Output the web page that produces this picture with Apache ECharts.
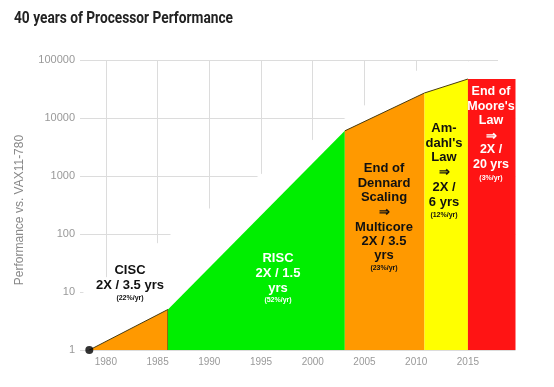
<!DOCTYPE html>
<html>
<head>
<meta charset="utf-8">
<script src="https://cdn.jsdelivr.net/npm/echarts@6/dist/echarts.min.js"></script>
<style>
html,body{margin:0;padding:0;background:#fff;}
#c{width:554px;height:387px;}
</style>
</head>
<body>
<div id="c"></div>
<script>
// ---- data ----
const eraYears = [1978.4, 1986.0, 2003.1, 2010.8, 2015.0, 2019.6];   // era boundaries
const eraPerf  = [1, 5, 6000, 27000, 47000, 47000];                  // performance at boundaries
const eraNames = ['CISC', 'RISC', 'End of Dennard Scaling', "Amdahl's Law", "End of Moore's Law"];
const xTicks = [1980, 1985, 1990, 1995, 2000, 2005, 2010, 2015];
const yTicks = [1, 10, 100, 1000, 10000, 100000];

const titleText   = '40 years of Processor Performance';
const ciscText    = ['CISC', '2X / 3.5 yrs', '(22%/yr)'];
const riscText    = ['RISC', '2X / 1.5', 'yrs', '(52%/yr)'];
const dennardText = ['End of', 'Dennard', 'Scaling', '\u21D2', 'Multicore', '2X / 3.5', 'yrs', '(23%/yr)'];
const amdahlText  = ['Am-', "dahl's", 'Law', '\u21D2', '2X /', '6 yrs', '(12%/yr)'];
const mooreText   = ['End of', "Moore's", 'Law', '\u21D2', '2X /', '20 yrs', '(3%/yr)'];

// ---- styles ----
const eraColors = ['#ff9900', '#00ee00', '#ff9900', '#ffff00', '#ff1414'];
const eraEdge   = [true, false, true, true, false];
const edgeColor = '#4a3c10';
const FONT = '"Liberation Sans", Arial, sans-serif';

const chart = echarts.init(document.getElementById('c'));

const series = [];
// white backdrop that hides the grid below the performance curve (as in the original slide)
series.push({
  type: 'line', silent: true, symbol: 'none', z: 1,
  data: [[1977.5, 9], [2011.4, 95000], [2019.6, 95000]],
  lineStyle: { width: 0 },
  areaStyle: { color: '#ffffff', opacity: 1, origin: 'start' }
});
for (let i = 0; i < eraNames.length; i++) {
  const pts = [[eraYears[i], eraPerf[i]], [eraYears[i + 1], eraPerf[i + 1]]];
  if (i === 0) pts.push([eraYears[1], eraPerf[0]]);
  series.push({
    name: eraNames[i], type: 'line', symbol: 'none', silent: true, z: 2 + i,
    data: pts,
    lineStyle: eraEdge[i] ? { color: edgeColor, width: 1 } : { width: 0 },
    areaStyle: { color: eraColors[i], opacity: 1, origin: 'start' }
  });
}
series.push({
  type: 'scatter', silent: true, z: 20, clip: false,
  data: [[eraYears[0], eraPerf[0]]],
  symbolSize: 8, itemStyle: { color: '#000' }
});

function block(lines, cx, ys, color, smallIdx, size) {
  return lines.map((t, k) => ({
    type: 'text', z: 100,
    style: {
      text: t, x: cx, y: ys[k], align: 'center', verticalAlign: 'middle',
      fill: color,
      font: (k === smallIdx ? 'bold 7px ' : 'bold ' + (size || 13) + 'px ') + FONT
    }
  }));
}

// condensed title: measure and squeeze to the reference width
const TITLE_FONT = 'bold 16px Roboto, "Liberation Sans", sans-serif';
const ctx = document.createElement('canvas').getContext('2d');
ctx.font = TITLE_FONT;
const titleScale = Math.min(1, 219 / ctx.measureText(titleText).width);

const graphics = [].concat(
  [{
    type: 'text', x: 14, y: 19, scaleX: titleScale, z: 100,
    style: { text: titleText, font: TITLE_FONT, fill: '#222', verticalAlign: 'middle' }
  },
  {
    type: 'text', x: 20, y: 210, rotation: Math.PI / 2, z: 100,
    style: { text: 'Performance vs. VAX11-780', font: '12px ' + FONT, fill: '#888', align: 'center', verticalAlign: 'middle' }
  },
  { // trims the top grid line where the original chart area ended
    type: 'rect', z: 100, shape: { x: 498, y: 56, width: 22, height: 8 }, style: { fill: '#fff' }
  }],
  block(ciscText, 130, [270, 285, 298], '#111', 2),
  block(riscText, 278, [258, 273, 288, 300], '#ffffff', 3),
  block(dennardText, 384, [168, 183, 197, 212, 227, 241, 255, 268], '#111', 7),
  block(amdahlText, 444, [128, 143, 157, 172, 187, 202, 215], '#111', 6),
  block(mooreText, 491, [92, 107, 121, 137, 150, 165, 178], '#ffffff', 6, 12.5)
);

chart.setOption({
  animation: false,
  backgroundColor: '#ffffff',
  grid: { left: 80, right: 38.5, top: 60, bottom: 37 },
  xAxis: {
    type: 'value', min: 1977.5, max: eraYears[eraYears.length - 1],
    axisLine: { show: false },
    axisTick: { show: false, customValues: xTicks },
    axisLabel: { customValues: xTicks, color: '#999', fontSize: 10, margin: 7, fontFamily: FONT,
                 formatter: v => String(v) },
    splitLine: { show: true, lineStyle: { color: '#dcdcdc', width: 1 } }
  },
  yAxis: {
    type: 'log', logBase: 10, min: yTicks[0], max: yTicks[yTicks.length - 1], interval: 1,
    axisLine: { show: false },
    axisTick: { show: false },
    axisLabel: { color: '#999', fontSize: 11, margin: 5, fontFamily: FONT,
                 formatter: v => String(Math.round(v)) },
    splitLine: { show: true, lineStyle: { color: '#dcdcdc', width: 1 } }
  },
  series: series,
  graphic: graphics
});
</script>
</body>
</html>
